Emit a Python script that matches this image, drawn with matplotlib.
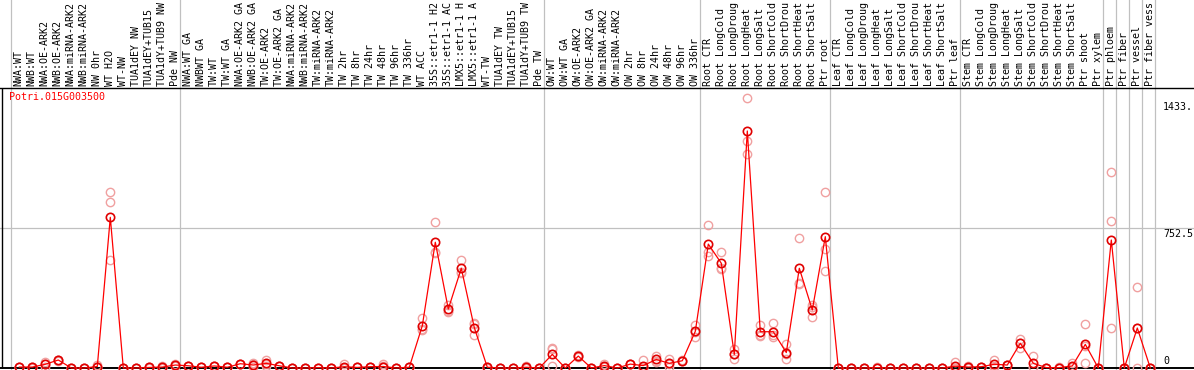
import matplotlib
matplotlib.use("Agg")
import matplotlib.pyplot as plt
import matplotlib.transforms as mtransforms
import numpy as np

# ---------------------------------------------------------------
# data
# ---------------------------------------------------------------
gene = "Potri.015G003500"

# sample names as far as they are shown in the reference (cut at 14 chars)
labels = [
    "NWA:WT", "NWB:WT", "NWA:OE-ARK2", "NWB:OE-ARK2", "NWA:miRNA-ARK2",
    "NWB:miRNA-ARK2", "NW 0hr", "WT H2O", "WT-NW", "TUA1dEY NW",
    "TUA1dEY+TUB15", "TUA1dY+TUB9 NW", "Pde NW",
    "NWA:WT GA", "NWBWT GA", "TW:WT", "TW:WT GA", "NWA:OE-ARK2 GA",
    "NWB:OE-ARK2 GA", "TW:OE-ARK2", "TW:OE-ARK2 GA", "NWA:miRNA-ARK2",
    "NWB:miRNA-ARK2", "TW:miRNA-ARK2", "TW:miRNA-ARK2", "TW 2hr",
    "TW 8hr", "TW 24hr", "TW 48hr", "TW 96hr", "TW 336hr", "WT ACC",
    "35S::etr1-1 H2", "35S::etr1-1 AC", "LMX5::etr1-1 H",
    "LMX5::etr1-1 A", "WT-TW", "TUA1dEY TW", "TUA1dEY+TUB15",
    "TUA1dY+TUB9 TW", "Pde TW",
    "OW:WT", "OW:WT GA", "OW:OE-ARK2", "OW:OE-ARK2 GA", "OW:miRNA-ARK2",
    "OW:miRNA-ARK2", "OW 2hr", "OW 8hr", "OW 24hr", "OW 48hr", "OW 96hr",
    "OW 336hr",
    "Root CTR", "Root LongCold", "Root LongDroug", "Root LongHeat",
    "Root LongSalt", "Root ShortCold", "Root ShortDrou", "Root ShortHeat",
    "Root ShortSalt", "Ptr root",
    "Leaf CTR", "Leaf LongCold", "Leaf LongDroug", "Leaf LongHeat",
    "Leaf LongSalt", "Leaf ShortCold", "Leaf ShortDrou", "Leaf ShortHeat",
    "Leaf ShortSalt", "Ptr leaf",
    "Stem CTR", "Stem LongCold", "Stem LongDroug", "Stem LongHeat",
    "Stem LongSalt", "Stem ShortCold", "Stem ShortDrou", "Stem ShortHeat",
    "Stem ShortSalt", "Ptr shoot",
    "Ptr xylem", "Ptr phloem", "Ptr fiber", "Ptr vessel", "Ptr fiber vess",
]

means = [
    5, 5, 20, 43, 0, 0, 8, 810, 0, 0, 3, 5, 16,
    12, 4, 11, 4, 23, 16, 25, 12, 0, 0, 2, 0, 7, 3, 7, 8, 0, 4,
    227, 676, 317, 536, 217, 4, 0, 0, 4, 0,
    73, 0, 64, 0, 13, 0, 21, 13, 46, 25, 39, 197,
    666, 563, 73, 1274, 195, 195, 83, 536, 312, 706,
    0, 0, 0, 2, 0, 0, 0, 0, 0, 10,
    5, 7, 20, 16, 133, 25, 2, 2, 11, 127,
    0, 688, 0, 215, 0,
]

rep1 = [
    3, 2, 34, 40, 0, 0, 16, 948, 0, 0, 2, 12, 20,
    12, 4, 11, 4, 23, 25, 43, 12, 0, 0, 2, 0, 20, 3, 7, 20, 0, 4,
    267, 786, 339, 580, 240, 6, 0, 0, 12, 0,
    109, 0, 70, 0, 20, 0, 21, 43, 64, 47, 43, 231,
    769, 622, 100, 1450, 231, 240, 127, 697, 337, 944,
    0, 0, 0, 4, 0, 0, 0, 0, 0, 34,
    10, 7, 43, 16, 156, 64, 2, 8, 25, 235,
    0, 1055, 0, 434, 0,
]

rep2 = [
    5, 5, 20, 45, 0, 0, 5, 894, 0, 0, 3, 2, 15,
    12, 4, 11, 4, 23, 20, 20, 12, 0, 0, 2, 0, 2, 3, 7, 10, 0, 4,
    210, 625, 303, 518, 177, 4, 0, 0, 0, 0,
    100, 0, 60, 0, 12, 0, 22, 0, 40, 20, 38, 195,
    625, 536, 73, 1220, 180, 178, 75, 459, 327, 640,
    0, 0, 0, 2, 0, 0, 0, 0, 0, 0,
    3, 7, 10, 16, 133, 8, 2, 0, 5, 120,
    0, 790, 0, 213, 0,
]

rep3 = [
    7, 8, 5, 44, 0, 0, 3, 580, 0, 0, 4, 1, 13,
    12, 4, 11, 4, 23, 3, 12, 12, 0, 0, 2, 0, 0, 3, 7, 6, 0, 4,
    205, 617, 309, 510, 234, 2, 0, 0, 0, 0,
    11, 0, 62, 0, 7, 0, 20, 0, 34, 8, 36, 165,
    602, 530, 47, 1150, 174, 168, 48, 452, 272, 521,
    0, 0, 0, 0, 0, 0, 0, 0, 0, 0,
    2, 7, 7, 16, 110, 3, 2, 0, 3, 25,
    0, 213, 0, 0, 0,
]

# first category of each block (gray separators sit just before them)
group_starts = [0, 13, 41, 53, 63, 73, 84, 85, 86, 87, 88]

ytick_vals = [0, 752.5, 1433]
ytick_text = ["0", "752.5", "1433."]

# ---------------------------------------------------------------
# figure
# ---------------------------------------------------------------
W, H = 1194, 370
fig = plt.figure(figsize=(W / 100, H / 100), dpi=100)
top_px, bot_px = 88, 369
ax = fig.add_axes([0, (H - bot_px) / H, 1, (bot_px - top_px) / H])

step = 13.0
x0 = 19.3
ax.set_xlim((0 - x0) / step, (W - x0) / step)
upp = 752.5 / 140.0  # data units per pixel
ax.set_ylim(-(bot_px - 368) * upp, (368 - top_px) * upp)

for s in ["left", "right", "bottom"]:
    ax.spines[s].set_visible(False)
ax.spines["top"].set_color("black")
ax.spines["top"].set_linewidth(1.0)
ax.set_xticks([])
ax.set_yticks([])

mono = "DejaVu Sans Mono"
fs = 7.2
x = np.arange(len(labels))

# separators and grid
for g in group_starts:
    ax.axvline(g - 0.64, ymin=-0.01, ymax=H / (bot_px - top_px), color="#c0c0c0",
               lw=0.9, clip_on=False, zorder=0)
ax.axvline((2 - x0) / step, color="black", lw=1.0, zorder=1)
ax.axhline(752.5, color="#c0c0c0", lw=0.9, zorder=0)
ax.axhline(0, color="black", lw=1.4, zorder=1)

# replicates
for rep in [rep1, rep2, rep3]:
    ax.plot(x, rep, ls="none", marker="o", ms=6, mfc="none", mec="#f0a0a0",
            mew=1.0, clip_on=False, zorder=2)

# means
ax.plot(x, means, color="red", lw=0.9, marker="o", ms=6, mfc="none",
        mec="#e00000", mew=1.2, clip_on=False, zorder=3)

# category labels above the plot
trans = mtransforms.blended_transform_factory(ax.transData, ax.transAxes)
for i, lab in enumerate(labels):
    ax.text(i - 0.06, 1 + 2.0 / (bot_px - top_px), lab, transform=trans,
            rotation=90, ha="center", va="bottom", fontsize=fs,
            family=mono, clip_on=False)

ax.text(9.3 / W, 1 - (96.7 - top_px) / (bot_px - top_px), gene,
        transform=ax.transAxes, color="red", fontsize=fs, family=mono,
        ha="left", va="center")

# value labels on the right
tx = mtransforms.blended_transform_factory(ax.transAxes, ax.transData)
for v, t in zip(ytick_vals, ytick_text):
    ax.text(1163 / W, v + (1.5 * upp if v == 0 else -1.0 * upp), t,
            transform=tx, fontsize=fs, family=mono, ha="left",
            va="bottom" if v == 0 else "top")

fig.savefig("out.png", dpi=100)
